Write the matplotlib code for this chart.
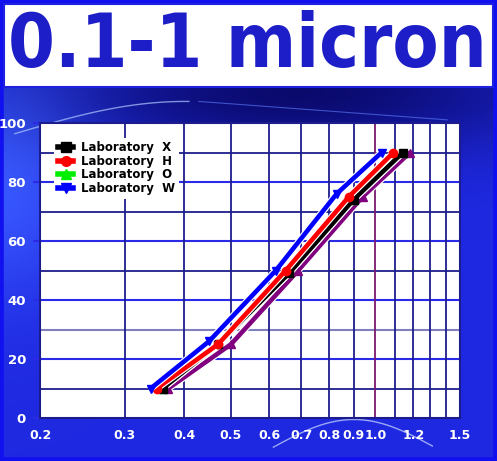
import numpy as np
import matplotlib
matplotlib.use("Agg")
import matplotlib.pyplot as plt
import matplotlib.patheffects as pe
from matplotlib.patches import Rectangle
from matplotlib.lines import Line2D
from matplotlib.ticker import FixedLocator, NullFormatter

# particle size (micron) vs cumulative %
lab_x_size = [0.36, 0.47, 0.66, 0.90, 1.14]
lab_x_pct = [10, 25, 49, 74, 90]
lab_h_size = [0.35, 0.47, 0.65, 0.88, 1.09]
lab_h_pct = [10, 25, 50, 75, 90]
lab_o_size = [0.36, 0.47, 0.66, 0.90, 1.14]
lab_o_pct = [10, 25, 49, 74, 90]
lab_w_size = [0.34, 0.45, 0.62, 0.83, 1.03]
lab_w_pct = [10, 26, 50, 76, 90]
extra_size = [0.37, 0.50, 0.69, 0.94, 1.18]
extra_pct = [10, 25, 50, 75, 90]

xticks = [0.2, 0.3, 0.4, 0.5, 0.6, 0.7, 0.8, 0.9, 1.0, 1.2, 1.5]
xtick_labels = ["0.2", "0.3", "0.4", "0.5", "0.6", "0.7", "0.8", "0.9", "1.0", "1.2", "1.5"]
xgrid = [0.3, 0.4, 0.5, 0.6, 0.7, 0.8, 0.9, 1.1, 1.2, 1.3, 1.4]

W, H = 497, 461
fig = plt.figure(figsize=(W / 100, H / 100), dpi=100)

# blue swirl background
bg = fig.add_axes([0, 0, 1, 1], zorder=-10)
bg.set_axis_off()
yy, xx = np.mgrid[0:1:300j, 0:1:320j]
dark = np.exp(-(((xx - 0.6) / 0.5) ** 2 + ((yy - 0.2) / 0.14) ** 2))
glow = np.exp(-(((xx - 0.0) / 0.18) ** 2 + ((yy - 0.4) / 0.25) ** 2))
r = 0.12 + 0.10 * glow - 0.08 * dark
g = 0.16 + 0.18 * glow - 0.12 * dark
b = 0.88 + 0.12 * glow - 0.45 * dark
img = np.clip(np.dstack([r, g, b]), 0, 1)
bg.imshow(img, extent=[0, 1, 0, 1], aspect="auto", origin="upper")
# light streaks
t = np.linspace(0, 1, 100)
bg.plot(0.03 + 0.35 * t, 0.71 + 0.07 * np.sin(t * 1.6), color="#b0c8ff", lw=1, alpha=0.7)
bg.plot(0.4 + 0.5 * t, 0.78 - 0.04 * t, color="#6080ff", lw=0.8, alpha=0.6)
bg.plot(0.55 + 0.32 * t, 0.03 + 0.06 * np.sin(t * 3.1), color="#d0e0ff", lw=1, alpha=0.7)
bg.set_xlim(0, 1)
bg.set_ylim(0, 1)
bg.add_patch(Rectangle((0.002, 0.003), 0.996, 0.994, fill=False, ec="#1010f0", lw=4))

# title band
bg.add_patch(Rectangle((0.008, 1 - 87 / H), 0.984, 83 / H, fc="white", ec="#2020e0", lw=1.5))
fig.text(0.497, 1 - 46 / H, "0.1-1 micron", ha="center", va="center",
         fontsize=54, fontweight="bold", fontstretch="condensed",
         color="#1e1ec8", family="DejaVu Sans")

ax = fig.add_axes([40 / W, 43 / H, 420 / W, 295 / H])
ax.set_facecolor("white")
ax.set_xscale("log")
ax.set_xlim(0.2, 1.5)
ax.set_ylim(0, 100)

ax.set_xticks(xticks)
ax.set_xticklabels(xtick_labels)
ax.xaxis.set_minor_locator(FixedLocator([]))
ax.xaxis.set_minor_formatter(NullFormatter())
ax.set_yticks([0, 20, 40, 60, 80, 100])
ax.set_yticks([10, 30, 50, 70, 90], minor=True)
ax.tick_params(axis="x", length=0, pad=8, labelcolor="white", labelsize=9)
ax.tick_params(axis="y", which="major", length=5, color="#2a2ae8", width=1.5,
               pad=5, labelcolor="white", labelsize=9.5)
ax.tick_params(axis="y", which="minor", length=0)
for lab in ax.get_xticklabels() + ax.get_yticklabels():
    lab.set_fontweight("bold")

for v in [20, 40, 60, 80]:
    ax.axhline(v, color="#2a2ae8", lw=1.5, zorder=1)
for v in [10, 50, 70, 90]:
    ax.axhline(v, color="#1c1c8c", lw=1.3, zorder=1)
ax.axhline(30, color="#8080c0", lw=1.5, zorder=1)
for v in xgrid:
    ax.axvline(v, color="#1c1c8c", lw=1.3, zorder=1)
ax.axvline(1.0, color="#7a1a70", lw=1.3, zorder=1)

for s in ax.spines.values():
    s.set_color("#1c1c8c")
    s.set_linewidth(1.5)

outline = [pe.Stroke(linewidth=5, foreground="white"), pe.Normal()]
series = [
    (extra_size, extra_pct, "#800080", "^", None, 3),
    (lab_o_size, lab_o_pct, "#00ee00", "^", "Laboratory  O", 3),
    (lab_x_size, lab_x_pct, "black", "s", "Laboratory  X", 4),
    (lab_h_size, lab_h_pct, "#ff0000", "o", "Laboratory  H", 5),
    (lab_w_size, lab_w_pct, "#0000ff", "v", "Laboratory  W", 6),
]
handles = {}
for xs, ys, col, mk, lab, z in series:
    ax.plot(xs, ys, color=col, lw=3.3, zorder=z, path_effects=outline,
            solid_capstyle="butt")
    ax.plot(xs, ys, color=col, lw=0, marker=mk, ms=6, zorder=z + 0.5)
    if lab:
        handles[lab] = Line2D([], [], color=col, lw=4, marker=mk, ms=7)

names = ["Laboratory  X", "Laboratory  H", "Laboratory  O", "Laboratory  W"]
leg = ax.legend([handles[n] for n in names], names,
                loc="upper left", bbox_to_anchor=(0.02, 0.97), frameon=True,
                facecolor="white", edgecolor="none", framealpha=1,
                prop={"weight": "bold", "size": 8.5}, labelspacing=0.05,
                handlelength=1.3, handletextpad=0.7, borderpad=0.3)
leg.set_zorder(10)

fig.savefig("out.png", dpi=100)
